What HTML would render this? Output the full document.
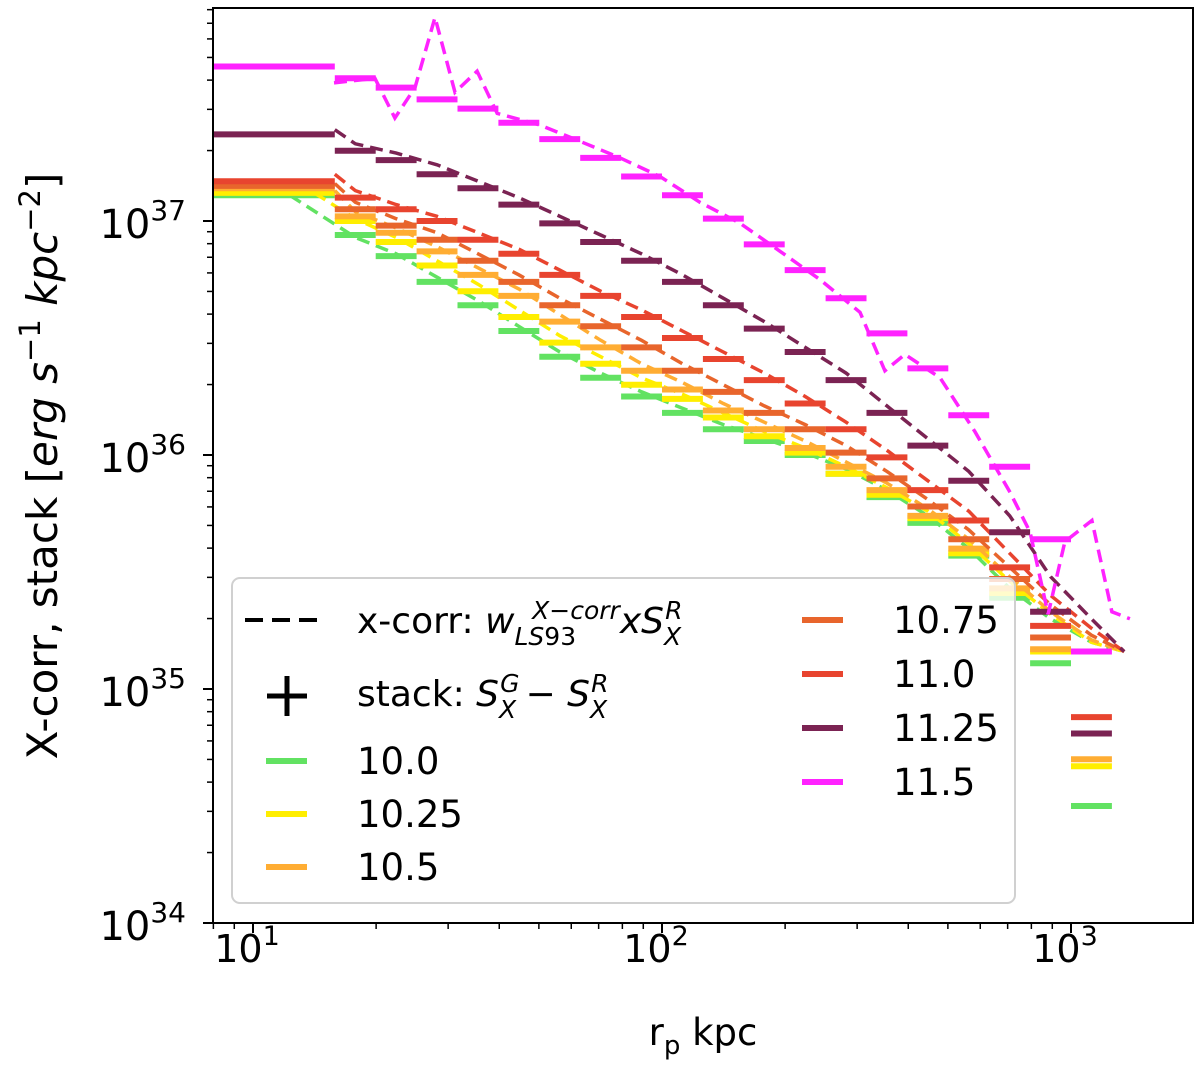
<!DOCTYPE html>
<html><head><meta charset="utf-8">
<style>
html,body{margin:0;padding:0;background:#fff;}
svg{display:block;font-family:"DejaVu Sans","Liberation Sans",sans-serif;}
</style></head>
<body>
<svg id="chart" width="1200" height="1080" viewBox="0 0 1200 1080" xmlns="http://www.w3.org/2000/svg">
<defs><clipPath id="plotclip"><rect x="213" y="8" width="980" height="915"/></clipPath></defs>
<g id="marks" clip-path="url(#plotclip)"></g>
<rect x="213" y="8" width="980" height="915" fill="none" stroke="#000" stroke-width="2"/>
<g id="ticks"></g>
<g id="legend">
  <rect x="232" y="578" width="783" height="325" rx="8" fill="#fff" fill-opacity="0.8" stroke="#d0d0d0" stroke-width="2"/>
  <line x1="245" y1="620" x2="318" y2="620" stroke="#000" stroke-width="4" stroke-dasharray="18,9"/>
  <text x="357" y="633" font-size="36">x-corr: <tspan font-style="italic">w</tspan><tspan font-size="25" font-style="italic" dy="12">LS</tspan><tspan font-size="25" dy="0">93</tspan><tspan font-size="25" font-style="italic" dy="-26" dx="-44">X</tspan><tspan font-size="25" dy="0">−</tspan><tspan font-size="25" font-style="italic">corr</tspan><tspan dy="14" font-style="italic">xS</tspan><tspan font-size="25" font-style="italic" dy="12" dx="0">X</tspan><tspan font-size="25" font-style="italic" dy="-26" dx="-16">R</tspan></text>
  <line x1="267" y1="696" x2="307" y2="696" stroke="#000" stroke-width="5"/>
  <line x1="287" y1="676" x2="287" y2="716" stroke="#000" stroke-width="5"/>
  <text x="357" y="706" font-size="36">stack: <tspan font-style="italic">S</tspan><tspan font-size="25" font-style="italic" dy="12">X</tspan><tspan font-size="25" font-style="italic" dy="-26" dx="-16">G</tspan><tspan dy="14" dx="6">− </tspan><tspan font-style="italic">S</tspan><tspan font-size="25" font-style="italic" dy="12">X</tspan><tspan font-size="25" font-style="italic" dy="-26" dx="-16">R</tspan></text>
  <g id="legendEntries"></g>
</g>
<g id="labels"></g>
<text x="703" y="1045" font-size="37" text-anchor="middle">r<tspan font-size="26" dy="9">p</tspan><tspan dy="-9"> kpc</tspan></text>
<text transform="translate(57,466) rotate(-90)" font-size="42" text-anchor="middle">X-corr, stack [<tspan font-style="italic">erg s</tspan><tspan font-size="29" dy="-17">−1</tspan><tspan dy="17" font-style="italic"> kpc</tspan><tspan font-size="29" dy="-17">−2</tspan><tspan dy="17">]</tspan></text>
</svg>
<script>
// ---- data (log10 of luminosity surface density) ----
const massLabels = ["10.0","10.25","10.5","10.75","11.0","11.25","11.5"];
const seriesColors = ["#62e262","#ffee00","#ffad33","#e8652c","#e8442f","#7b2353","#ff22ff"];
const firstBinLo = 0.8, firstBinHi = 1.2;
const binLo = [1.2,1.3,1.4,1.5,1.6,1.7,1.8,1.9,2.0,2.1,2.2,2.3,2.4,2.5,2.6,2.7,2.8,2.9,3.0];
const binWidth = 0.1;
const stackFirst = [37.11,37.12,37.14,37.15,37.17,37.37,37.66];
const stack100 = [36.94,36.85,36.74,36.64,36.53,36.42,36.33,36.25,36.18,36.11,36.06,36.00,35.92,35.82,35.71,35.57,35.39,35.11,34.50];
const stack1025 = [37.00,36.91,36.81,36.70,36.59,36.48,36.39,36.30,36.24,36.16,36.08,36.01,35.92,35.83,35.73,35.58,35.41,35.16,34.67];
const stack105 = [37.02,36.95,36.87,36.77,36.68,36.57,36.46,36.36,36.28,36.19,36.11,36.03,35.95,35.85,35.74,35.60,35.43,35.17,34.70];
const stack1075 = [37.05,36.98,36.92,36.83,36.74,36.64,36.55,36.46,36.36,36.27,36.18,36.11,36.01,35.90,35.78,35.64,35.47,35.22,null];
const stack110 = [37.10,37.05,37.00,36.92,36.86,36.77,36.68,36.59,36.50,36.41,36.32,36.22,36.11,35.99,35.85,35.72,35.52,35.27,34.88];
const stack1125 = [37.30,37.26,37.20,37.14,37.07,36.99,36.91,36.83,36.74,36.64,36.54,36.44,36.32,36.18,36.04,35.89,35.67,35.33,34.81];
const stack115 = [37.61,37.57,37.52,37.48,37.42,37.35,37.27,37.19,37.11,37.01,36.90,36.79,36.67,36.52,36.37,36.17,35.95,35.64,35.16];
const dashStart = [1.09,1.15,1.2,1.2,1.2,1.2];
const dashX = [1.25,1.35,1.45,1.55,1.65,1.75,1.85,1.95,2.05,2.15,2.25,2.35,2.45,2.55,2.65,2.75,2.85,2.95,3.05,3.13];
const dash100 = [37.11,36.93,36.86,36.76,36.66,36.55,36.44,36.35,36.27,36.20,36.13,36.07,36.01,35.94,35.85,35.74,35.60,35.43,35.30,35.20,35.16];
const dash1025 = [37.12,37.01,36.93,36.83,36.73,36.62,36.51,36.42,36.33,36.26,36.18,36.10,36.03,35.95,35.86,35.76,35.62,35.46,35.32,35.20,35.16];
const dash105 = [37.13,37.04,36.97,36.89,36.80,36.71,36.60,36.49,36.39,36.31,36.22,36.14,36.06,35.97,35.88,35.77,35.64,35.48,35.33,35.21,35.16];
const dash1075 = [37.16,37.08,37.01,36.95,36.86,36.77,36.67,36.58,36.49,36.39,36.30,36.21,36.13,36.04,35.93,35.81,35.68,35.52,35.36,35.23,35.16];
const dash110 = [37.20,37.13,37.07,37.02,36.95,36.88,36.79,36.70,36.62,36.53,36.44,36.35,36.25,36.14,36.02,35.89,35.76,35.58,35.40,35.26,35.16];
const dash1125 = [37.39,37.33,37.29,37.24,37.17,37.10,37.02,36.94,36.86,36.77,36.67,36.57,36.46,36.35,36.21,36.07,35.93,35.74,35.48,35.30,35.16];
const dashX115 = [1.198,1.298,1.347,1.396,1.445,1.494,1.548,1.597,1.702,1.800,1.897,1.995,2.093,2.191,2.289,2.386,2.484,2.545,2.594,2.680,2.765,2.851,2.900,2.944,2.985,3.051,3.100,3.144];
const dash115 = [37.59,37.61,37.44,37.57,37.87,37.55,37.64,37.46,37.41,37.34,37.27,37.19,37.08,36.99,36.87,36.75,36.61,36.36,36.43,36.33,36.10,35.84,35.67,35.32,35.63,35.72,35.33,35.30];
const xTickExp = [1,2,3];
const yTickExp = [34,35,36,37];

const X0 = 253, XD = 409, Y0 = 923, YD = 234;
function xs(lg){ return X0 + (lg - 1) * XD; }
function ys(lg){ return Y0 - (lg - 34) * YD; }
const NS = "http://www.w3.org/2000/svg";
function mk(tag, attrs, parent){ const e = document.createElementNS(NS, tag); for (const k in attrs) e.setAttribute(k, attrs[k]); parent.appendChild(e); return e; }

const marks = document.getElementById('marks');
const stacks = [stack100,stack1025,stack105,stack1075,stack110,stack1125,stack115];
const dashes = [dash100,dash1025,dash105,dash1075,dash110,dash1125];
for (let s = 0; s < 7; s++) {
  const g = mk('g', {}, marks);
  
  
  const col = seriesColors[s];
  const fb = mk('line', {x1: xs(firstBinLo), x2: xs(firstBinHi), y1: ys(stackFirst[s]), y2: ys(stackFirst[s]), stroke: col, 'stroke-width': 6}, g);
  
  
  stacks[s].forEach((v, k) => {
    if (v === null) return;
    const b = mk('line', {x1: xs(binLo[k]), x2: xs(binLo[k] + binWidth), y1: ys(v), y2: ys(v), stroke: col, 'stroke-width': 6}, g);
    
    
  });
  let pts;
  if (s < 6) {
    const xsArr = [dashStart[s]].concat(dashX);
    pts = xsArr.map((lx, i) => xs(lx).toFixed(1) + ',' + ys(dashes[s][i]).toFixed(1));
  } else {
    pts = dashX115.map((lx, i) => xs(lx).toFixed(1) + ',' + ys(dash115[i]).toFixed(1));
  }
  const pl = mk('polyline', {points: pts.join(' '), fill: 'none', stroke: col, 'stroke-width': 3.5, 'stroke-dasharray': '13,7'}, g);
  
  
}

const ticks = document.getElementById('ticks');
const labels = document.getElementById('labels');
for (let d = 0; d <= 3; d++) {
  for (let m = 1; m <= 9; m++) {
    const lg = d + Math.log10(m);
    const x = xs(lg);
    if (x < 212.5 || x > 1193.5) continue;
    const major = m === 1;
    const t = mk('line', {x1: x, x2: x, y1: 923, y2: 923 + (major ? 10 : 6), stroke: '#000', 'stroke-width': major ? 2 : 1.5}, ticks);
    
    
  }
}
for (let d = 34; d <= 37; d++) {
  for (let m = 1; m <= 9; m++) {
    const lg = d + Math.log10(m);
    const y = ys(lg);
    if (y < 7.5 || y > 923.5) continue;
    const major = m === 1;
    const t = mk('line', {x1: 213 - (major ? 10 : 6), x2: 213, y1: y, y2: y, stroke: '#000', 'stroke-width': major ? 2 : 1.5}, ticks);
    
    
  }
}
xTickExp.forEach(e => {
  const t = mk('text', {x: xs(e) - 6, y: 962, 'font-size': 38, 'text-anchor': 'middle'}, labels);
  
  
  t.innerHTML = '10<tspan font-size="27" dy="-17">' + e + '</tspan>';
});
yTickExp.forEach(e => {
  const t = mk('text', {x: 186, y: ys(e) + 17, 'font-size': 40, 'text-anchor': 'end'}, labels);
  
  
  t.innerHTML = '10<tspan font-size="28" dy="-18">' + e + '</tspan>';
});

const le = document.getElementById('legendEntries');
const legPos = [[266,761],[266,814],[266,867],[802,620],[802,674],[802,728],[802,782]];
massLabels.forEach((lab, i) => {
  const [lx, ly] = legPos[i];
  const l = mk('line', {x1: lx, x2: lx + 41, y1: ly, y2: ly, stroke: seriesColors[i], 'stroke-width': 6}, le);
  
  
  const t = mk('text', {x: lx + 91, y: ly + 13, 'font-size': 37}, le);
  
  
  t.textContent = lab;
});
</script>
</body></html>
